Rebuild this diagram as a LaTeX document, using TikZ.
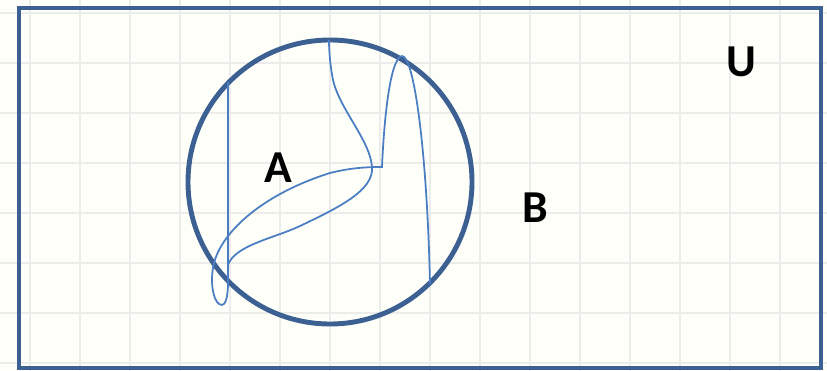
\documentclass[tikz,border=0pt]{standalone}
\usepackage{fontspec}
\setmainfont{Carlito}
\usetikzlibrary{positioning}
\definecolor{framebl}{HTML}{3B6091}
\definecolor{curvebl}{HTML}{4A7DC2}
\definecolor{gridgr}{HTML}{ECECEA}
\tikzset{
  frame/.style={draw=framebl,line width=2.6pt},
  setline/.style={draw=framebl,line width=2.8pt},
  curve/.style={draw=curvebl,line width=1pt},
  gridline/.style={draw=gridgr,line width=0.7pt},
  lbl/.style={font=\fontsize{26}{30}\selectfont\bfseries,inner sep=0pt},
}

\begin{document}
\begin{tikzpicture}[x=0.02cm,y=-0.02cm]
  \useasboundingbox (0,0) rectangle (827,371);
  \fill[white!98!yellow] (0,0) rectangle (827,371);
  % faint grid behind
  \foreach \gx in {30,80,...,830}
    \draw[gridline] (\gx,0) -- (\gx,371);
  \foreach \gy in {13,63,...,363}
    \draw[gridline] (0,\gy) -- (827,\gy);
  % universe
  \draw[frame] (19,8) rectangle (821,368);
  % set A
  \coordinate (cA) at (330,182);
  \draw[setline] (cA) circle[radius=142];
  % scribbles inside A
  \draw[curve] (228,82) -- (228,283)
    .. controls (228,298) and (225,305) .. (222,305)
    .. controls (214,305) and (210,285) .. (213,268)
    .. controls (218,235) and (260,195) .. (330,173)
    .. controls (350,168) and (365,167) .. (382,167)
    .. controls (384,120) and (390,58) .. (402,56)
    .. controls (414,56) and (427,150) .. (430,284);
  \draw[curve] (228,265)
    .. controls (235,245) and (275,238) .. (300,226)
    .. controls (340,207) and (374,190) .. (372,167)
    .. controls (370,140) and (340,110) .. (333,80)
    .. controls (330,65) and (329,50) .. (329,40);
  % labels
  \node[lbl] (labA) at (278,168) {A};
  \node[lbl] (labB) at (535,208) {B};
  \node[lbl] (labU) at (741,62) {U};
\end{tikzpicture}
\end{document}
